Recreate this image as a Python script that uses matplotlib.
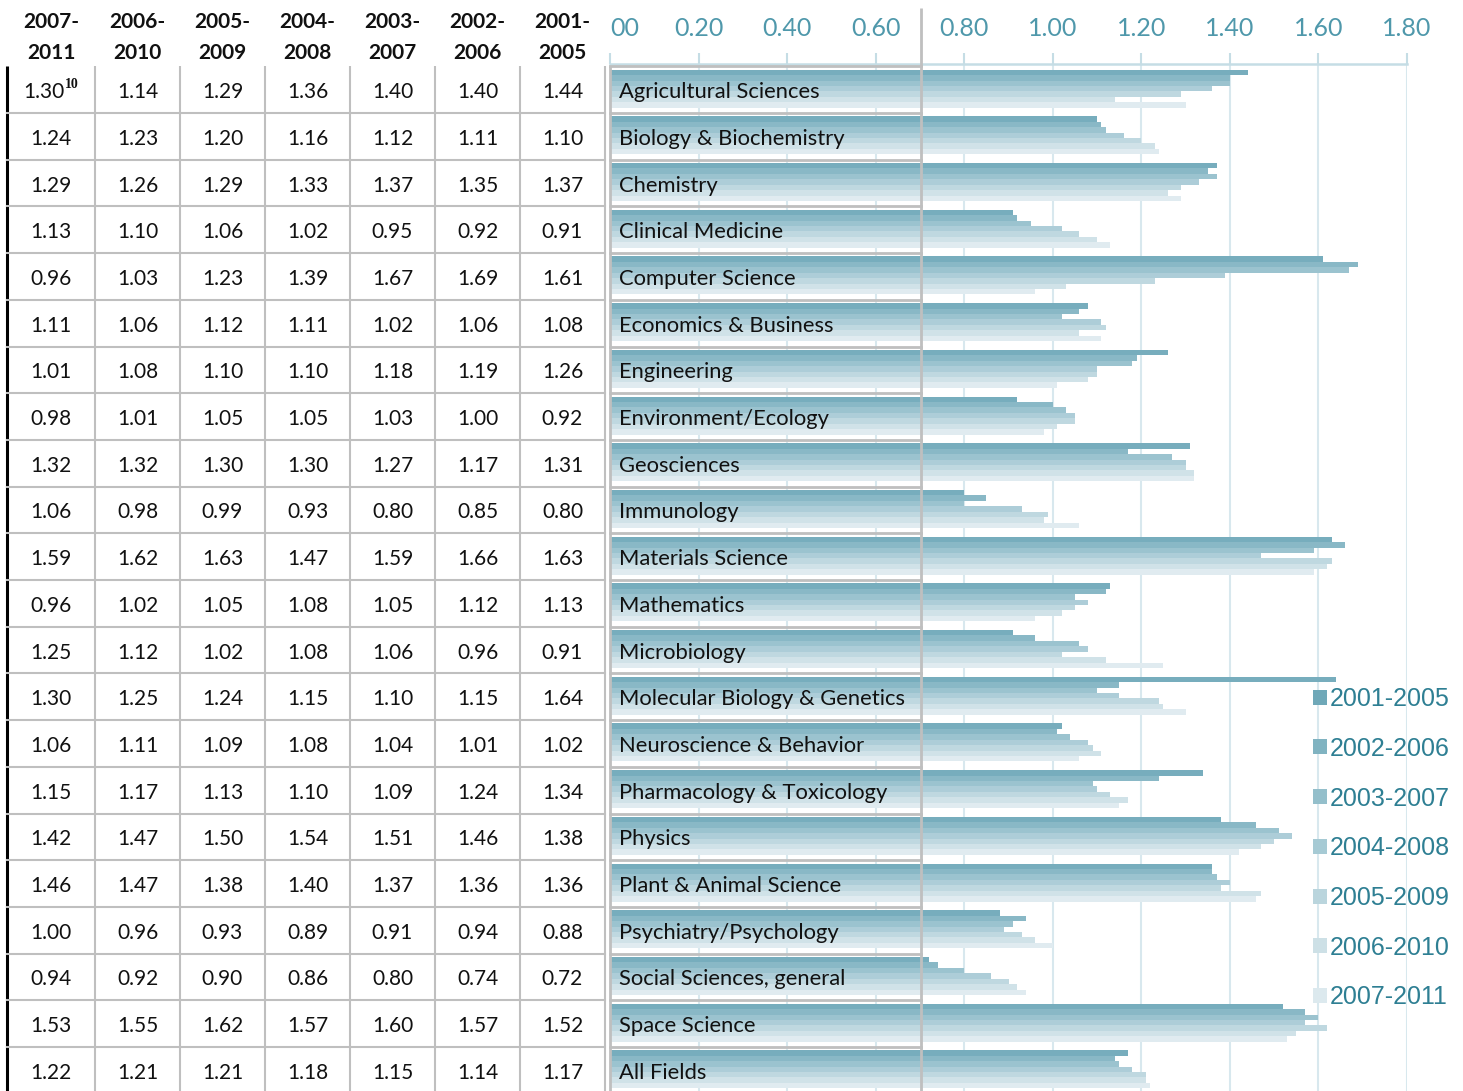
import matplotlib
matplotlib.use("Agg")
import matplotlib.pyplot as plt
from matplotlib.transforms import blended_transform_factory

categories = ["Agricultural Sciences", "Biology & Biochemistry", "Chemistry", "Clinical Medicine",
              "Computer Science", "Economics & Business", "Engineering", "Environment/Ecology",
              "Geosciences", "Immunology", "Materials Science", "Mathematics", "Microbiology",
              "Molecular Biology & Genetics", "Neuroscience & Behavior", "Pharmacology & Toxicology",
              "Physics", "Plant & Animal Science", "Psychiatry/Psychology", "Social Sciences, general",
              "Space Science", "All Fields"]

periods = ["2001-2005", "2002-2006", "2003-2007", "2004-2008", "2005-2009", "2006-2010", "2007-2011"]
header_labels = ["2007-\n2011", "2006-\n2010", "2005-\n2009", "2004-\n2008", "2003-\n2007", "2002-\n2006", "2001-\n2005"]

v2007_2011 = [1.30, 1.24, 1.29, 1.13, 0.96, 1.11, 1.01, 0.98, 1.32, 1.06, 1.59, 0.96, 1.25, 1.30, 1.06, 1.15, 1.42, 1.46, 1.00, 0.94, 1.53, 1.22]
v2006_2010 = [1.14, 1.23, 1.26, 1.10, 1.03, 1.06, 1.08, 1.01, 1.32, 0.98, 1.62, 1.02, 1.12, 1.25, 1.11, 1.17, 1.47, 1.47, 0.96, 0.92, 1.55, 1.21]
v2005_2009 = [1.29, 1.20, 1.29, 1.06, 1.23, 1.12, 1.10, 1.05, 1.30, 0.99, 1.63, 1.05, 1.02, 1.24, 1.09, 1.13, 1.50, 1.38, 0.93, 0.90, 1.62, 1.21]
v2004_2008 = [1.36, 1.16, 1.33, 1.02, 1.39, 1.11, 1.10, 1.05, 1.30, 0.93, 1.47, 1.08, 1.08, 1.15, 1.08, 1.10, 1.54, 1.40, 0.89, 0.86, 1.57, 1.18]
v2003_2007 = [1.40, 1.12, 1.37, 0.95, 1.67, 1.02, 1.18, 1.03, 1.27, 0.80, 1.59, 1.05, 1.06, 1.10, 1.04, 1.09, 1.51, 1.37, 0.91, 0.80, 1.60, 1.15]
v2002_2006 = [1.40, 1.11, 1.35, 0.92, 1.69, 1.06, 1.19, 1.00, 1.17, 0.85, 1.66, 1.12, 0.96, 1.15, 1.01, 1.24, 1.46, 1.36, 0.94, 0.74, 1.57, 1.14]
v2001_2005 = [1.44, 1.10, 1.37, 0.91, 1.61, 1.08, 1.26, 0.92, 1.31, 0.80, 1.63, 1.13, 0.91, 1.64, 1.02, 1.34, 1.38, 1.36, 0.88, 0.72, 1.52, 1.17]

xticks = [0.0, 0.2, 0.4, 0.6, 0.8, 1.0, 1.2, 1.4, 1.6, 1.8]
# the first tick label is cut off at the left edge in the original ("0.00" -> "00")
xtick_labels = ["00", "0.20", "0.40", "0.60", "0.80", "1.00", "1.20", "1.40", "1.60", "1.80"]

# bar order top -> bottom within each group
series = [v2001_2005, v2002_2006, v2003_2007, v2004_2008, v2005_2009, v2006_2010, v2007_2011]
# table column order left -> right
table_cols = [v2007_2011, v2006_2010, v2005_2009, v2004_2008, v2003_2007, v2002_2006, v2001_2005]

colors = ['#77adbd', '#89b8c6', '#9bc3cf', '#adcdd8', '#bfd8e0', '#d0e2e8', '#e0ebf0']
legend_colors = ['#6fa8b8', '#80b3c1', '#94bfcb', '#a6cad4', '#bad5dd', '#cde0e6', '#dce9ee']

W, H = 1463, 1091
fig = plt.figure(figsize=(W / 100, H / 100), dpi=100)
fig.patch.set_facecolor('white')

ROW0 = 66.3
ROWH = 46.7
CH_L, CH_R, CH_T = 610, 1407, 64

# ---- chart axes ----
ax = fig.add_axes([CH_L / W, 0, (CH_R - CH_L) / W, 1 - CH_T / H])
ax.set_xlim(0, 1.8)
ax.set_ylim((H - ROW0) / ROWH, (CH_T - ROW0) / ROWH)
ax.set_facecolor('none')

nser = len(series)
g0, g1 = 0.072, 0.885
bh = (g1 - g0) / nser
handles = []
for j, vals in enumerate(series):
    ys = [i + g0 + bh * (j + 0.5) for i in range(len(categories))]
    b = ax.barh(ys, vals, height=bh, color=colors[j], edgecolor='none', zorder=2, label=periods[j])
    handles.append(b)

ax.set_xticks(xticks)
ax.tick_params(axis='x', top=True, bottom=False, labeltop=False, labelbottom=False,
               direction='out', length=8, width=1.5, color='#c5dde5')
ax.set_yticks([])
for s in ['left', 'right', 'bottom']:
    ax.spines[s].set_visible(False)
ax.spines['top'].set_color('#c5dde5')
ax.spines['top'].set_linewidth(1.8)
ax.xaxis.grid(True, color='#d8e8ee', linewidth=1.5, zorder=0)
ax.set_axisbelow(True)

tr = blended_transform_factory(ax.transData, fig.transFigure)
for k, (xv, lab) in enumerate(zip(xticks, xtick_labels)):
    ax.text(xv, 1 - 28 / H, lab, transform=tr, ha='left' if k == 0 else 'center', va='center',
            fontsize=18, family='Lato', color='#4f98ab')

leg = ax.legend(handles=handles, loc='upper left', bbox_to_anchor=(1313 / W, 1 - 687 / H),
                bbox_transform=fig.transFigure, frameon=False,
                prop={'family': 'Liberation Sans', 'size': 18},
                handlelength=0.55, handleheight=0.55, handletextpad=0.12, labelspacing=1.03,
                borderaxespad=0, borderpad=0)
for txt in leg.get_texts():
    txt.set_color('#2e7f93')
for h, c in zip(leg.legend_handles, legend_colors):
    h.set_facecolor(c)

# ---- overlay axes (table, labels, borders) ----
ov = fig.add_axes([0, 0, 1, 1], facecolor='none')
ov.set_xlim(0, W)
ov.set_ylim(H, 0)
ov.axis('off')

col_edges = [7, 95, 180, 265, 350, 435, 520, 605]
grey = '#bfbfbf'
nrows = len(categories)
TY = 2.5  # vertical text offset
# header
for k, lab in enumerate(header_labels):
    cx = (col_edges[k] + col_edges[k + 1]) / 2
    ov.text(cx, 37.5, lab, ha='center', va='center', fontsize=15, fontweight='bold',
            family='Lato', color='#111111', linespacing=1.65)

# table values
for i in range(nrows):
    cy = ROW0 + ROWH * (i + 0.5) + TY
    for k, col in enumerate(table_cols):
        cx = (col_edges[k] + col_edges[k + 1]) / 2
        s = f"{col[i]:.2f}"
        if i == 0 and k == 0:
            ov.text(cx - 7, cy, s, ha='center', va='center', fontsize=15, family='Lato', color='#111111')
            ov.text(cx + 14, cy - 8, "10", ha='left', va='center', fontsize=10, fontweight='bold',
                    family='Liberation Serif', color='#111111')
        else:
            ov.text(cx, cy, s, ha='center', va='center', fontsize=15, family='Lato', color='#111111')
    ov.text(619, cy, categories[i], ha='left', va='center', fontsize=15.8, family='Lato', color='#111111')

# grid lines of the table
bottom = ROW0 + ROWH * nrows
for x in col_edges[1:]:
    ov.plot([x, x], [ROW0, bottom], color=grey, lw=1.5, solid_capstyle='butt')
ov.plot([col_edges[0], col_edges[0]], [ROW0, bottom], color='black', lw=2.2, solid_capstyle='butt')
for i in range(1, nrows + 1):
    y = ROW0 + ROWH * i
    ov.plot([col_edges[0], col_edges[-1]], [y, y], color=grey, lw=1.5)
# label column borders
LC_L, LC_R = 610, 921
for i in range(0, nrows + 1):
    y = ROW0 + ROWH * i
    ov.plot([LC_L, LC_R], [y, y], color=grey, lw=2)
ov.plot([LC_L, LC_L], [ROW0, bottom], color=grey, lw=2, solid_capstyle='butt')
ov.plot([LC_R, LC_R], [8, bottom], color=grey, lw=2, solid_capstyle='butt')

fig.savefig('out.png', dpi=100, facecolor='white')
